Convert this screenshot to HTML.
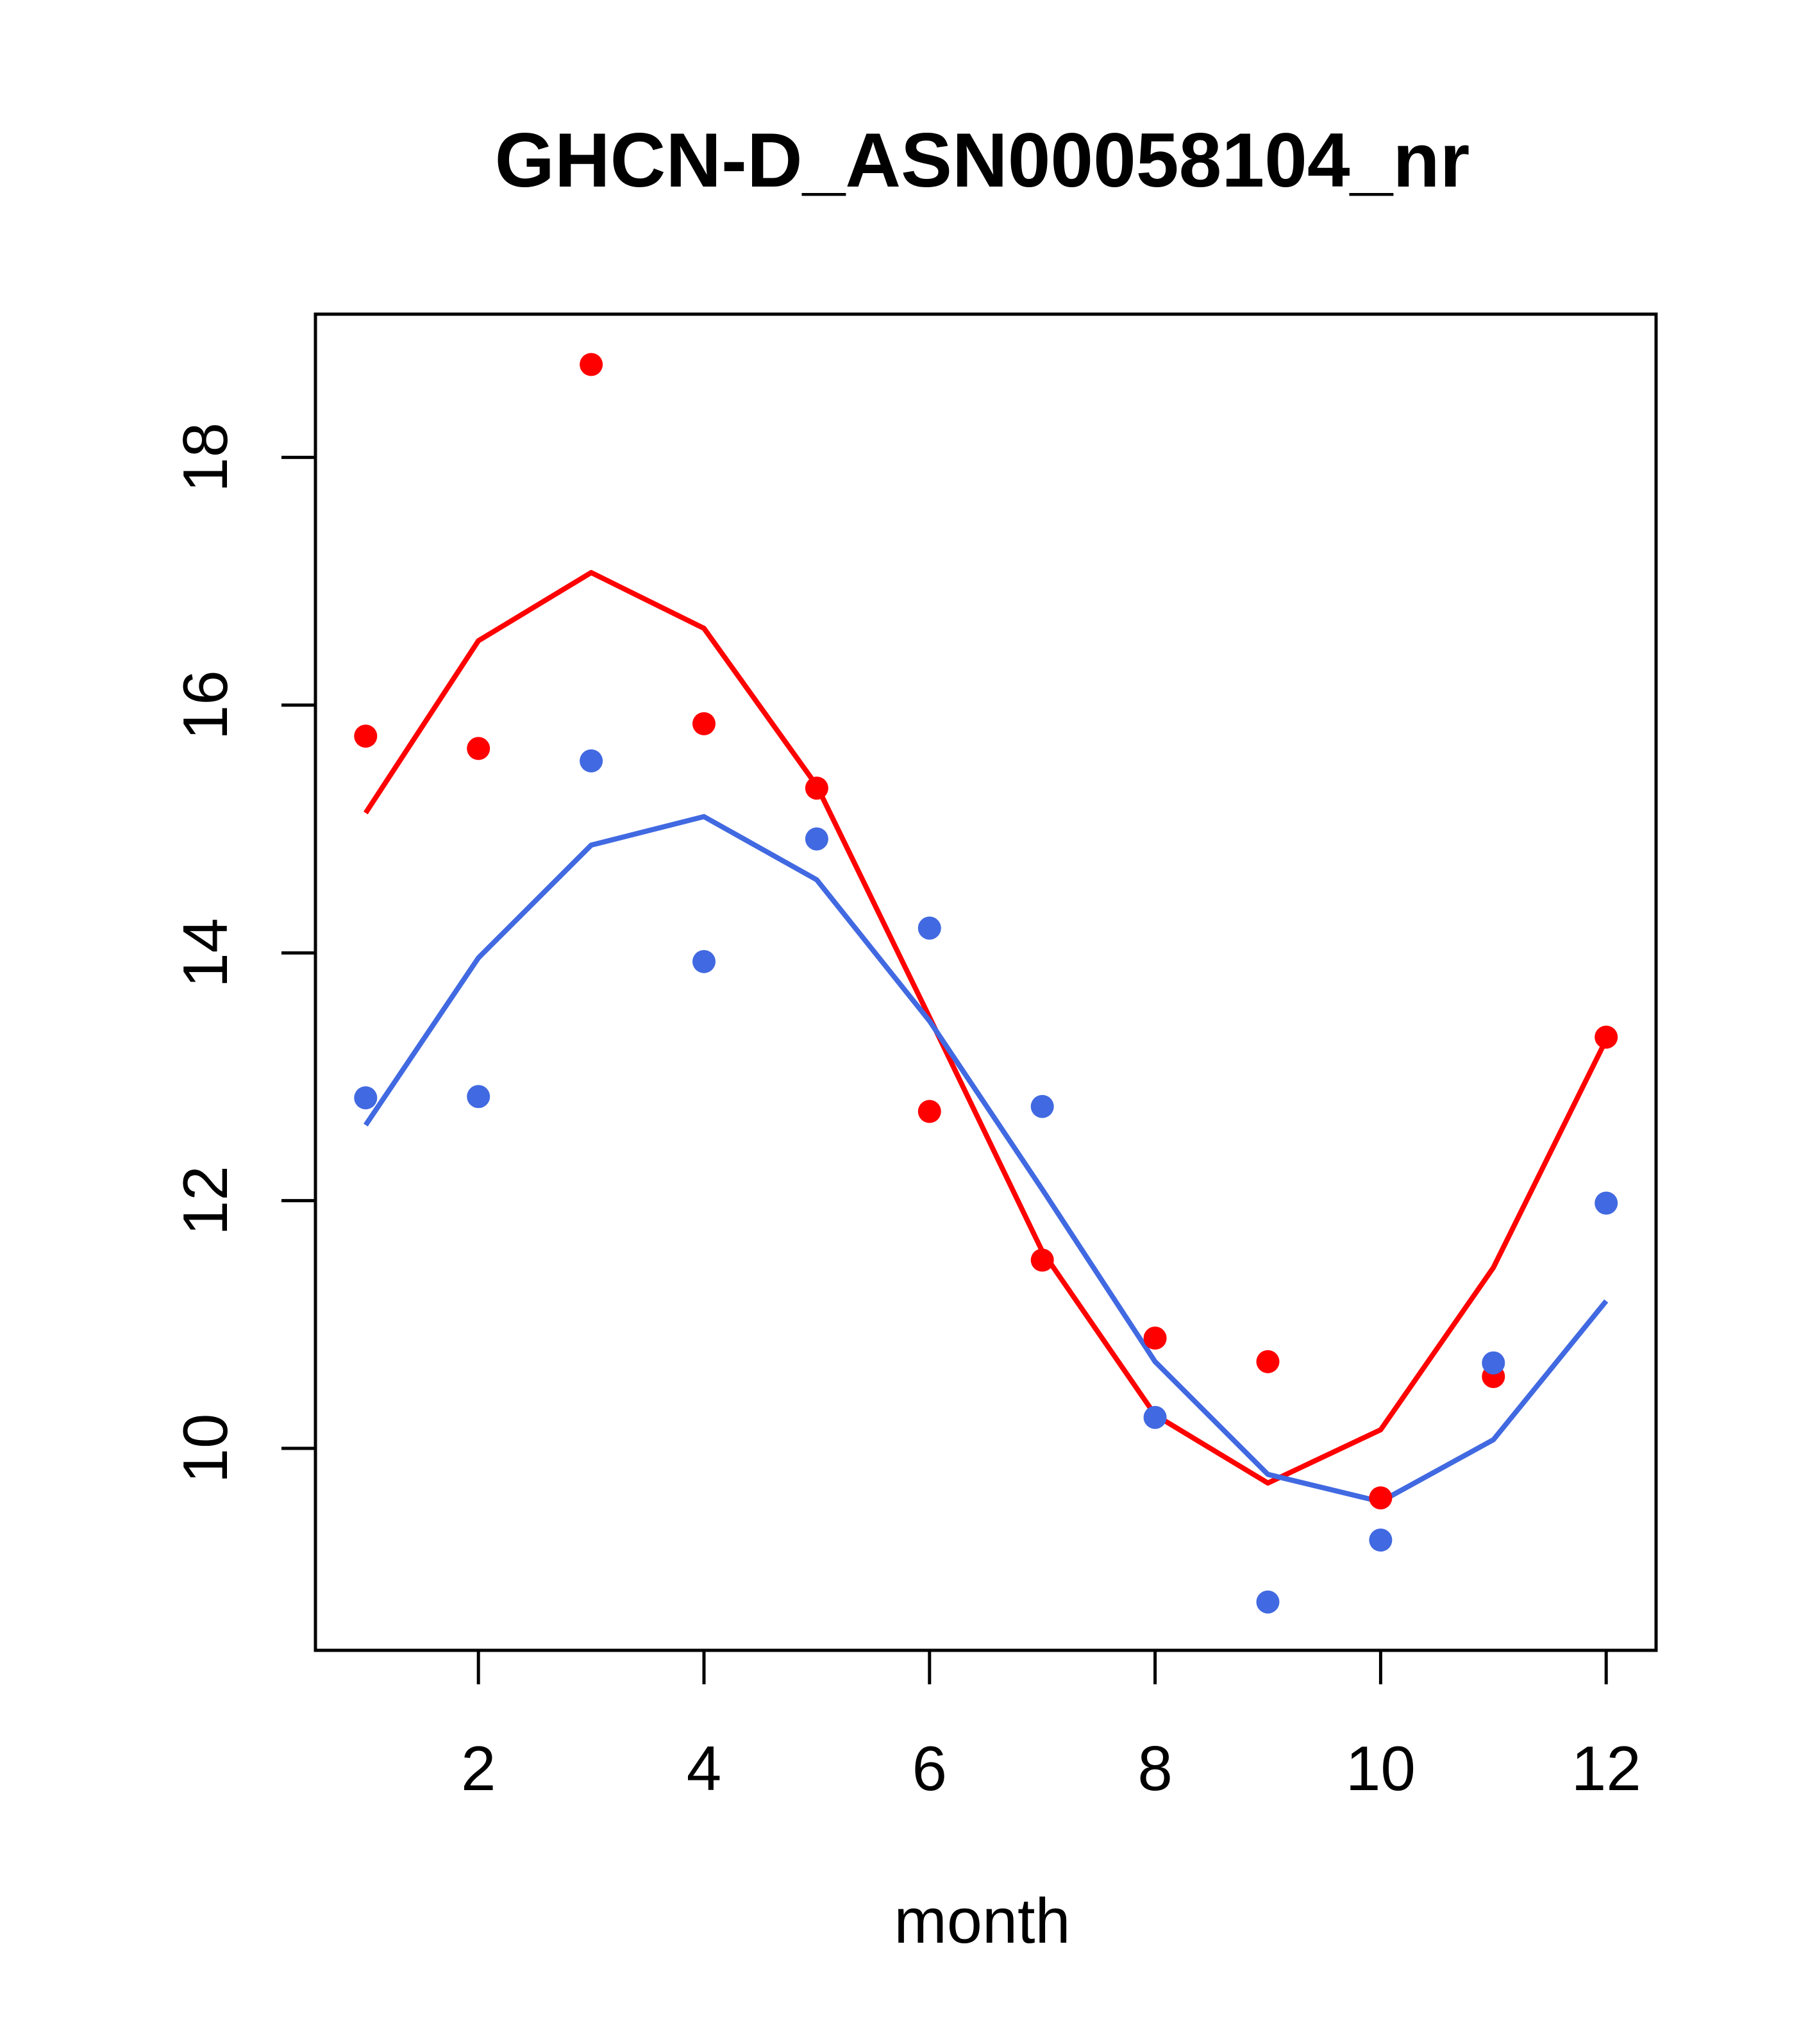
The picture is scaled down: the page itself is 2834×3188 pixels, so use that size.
<!DOCTYPE html>
<html><head><meta charset="utf-8"><style>body{margin:0;background:#fff}svg{display:block}</style></head>
<body>
<svg id="chart" width="2834" height="3188" xmlns="http://www.w3.org/2000/svg" font-family="Liberation Sans, Arial, sans-serif">
<rect width="2834" height="3188" fill="#fff"/>
<text x="1532" y="291" text-anchor="middle" font-size="120" font-weight="bold">GHCN-D_ASN00058104_nr</text>
<rect x="492" y="490" width="2091" height="2084" fill="none" stroke="#000" stroke-width="5"/>
<text x="1532" y="3030" text-anchor="middle" font-size="99">month</text>
<g id="axes"></g><g id="series"></g>
</svg>
<script>
const months=[1,2,3,4,5,6,7,8,9,10,11,12];
const xTicks=[2,4,6,8,10,12];
const yTicks=[10,12,14,16,18];
const redPoints=[15.75,15.65,18.75,15.85,15.33,12.72,11.52,10.89,10.70,9.60,10.58,13.32];
const bluePoints=[12.83,12.84,15.55,13.93,14.92,14.20,12.76,10.25,8.76,9.26,10.69,11.98];
const redLine=[15.13,16.52,17.07,16.62,15.35,13.48,11.59,10.27,9.72,10.15,11.46,13.30];
const blueLine=[12.61,13.96,14.87,15.10,14.59,13.45,12.09,10.70,9.79,9.57,10.07,11.19];
const NS='http://www.w3.org/2000/svg';
function xs(m){return 570.3+(m-1)*175.9;}
function ys(v){return 2259-(v-10)*193.2;}
function mk(t,a,p){const e=document.createElementNS(NS,t);for(const k in a)e.setAttribute(k,a[k]);p.appendChild(e);return e;}
const ax=document.getElementById('axes');
xTicks.forEach(t=>{
  const l=mk('line',{x1:xs(t),x2:xs(t),y1:2574,y2:2627,stroke:'#000','stroke-width':5},ax);
  
  
  const tx=mk('text',{x:xs(t),y:2792,'text-anchor':'middle','font-size':98},ax);tx.textContent=t;
  
  
});
yTicks.forEach(t=>{
  const l=mk('line',{x1:439,x2:492,y1:ys(t),y2:ys(t),stroke:'#000','stroke-width':5},ax);
  
  
  const tx=mk('text',{x:0,y:0,'text-anchor':'middle','font-size':98,transform:`translate(354,${ys(t)}) rotate(-90)`},ax);tx.textContent=t;
  
  
});
const se=document.getElementById('series');
function line(vals,col,name){
  const p=mk('polyline',{points:vals.map((v,i)=>xs(months[i])+','+ys(v)).join(' '),fill:'none',stroke:col,'stroke-width':8,'stroke-linejoin':'round'},se);
  
  
}
function pts(vals,col,name){
  vals.forEach((v,i)=>{
    const c=mk('circle',{cx:xs(months[i]),cy:ys(v),r:18,fill:col},se);
    
    
  });
}
line(redLine,'#ff0000','red-fit-line');
line(blueLine,'#4169e1','blue-fit-line');
pts(redPoints,'#ff0000','red-point');
pts(bluePoints,'#4169e1','blue-point');
</script>
</body></html>
